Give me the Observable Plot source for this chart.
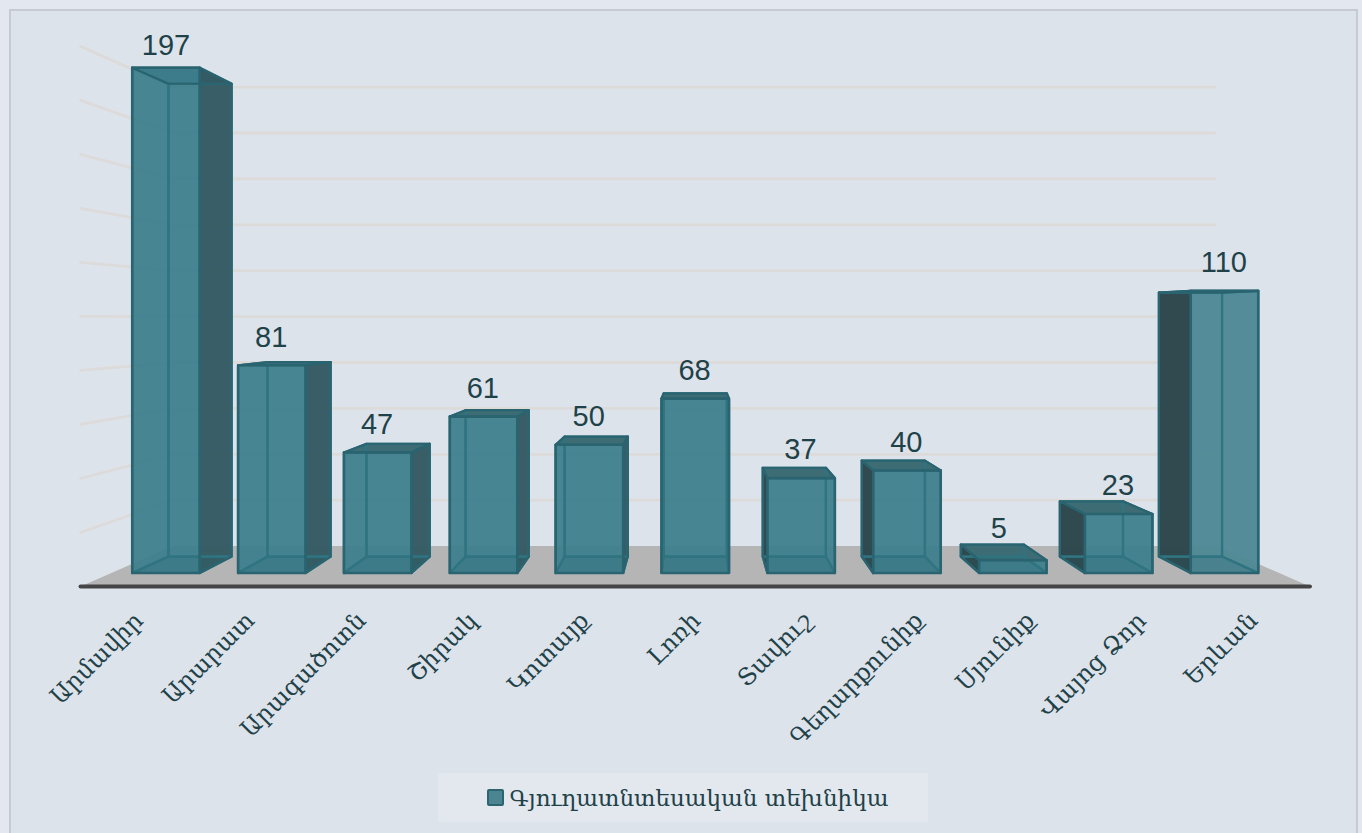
<!DOCTYPE html>
<html lang="hy">
<head>
<meta charset="utf-8">
<script src="https://cdn.jsdelivr.net/npm/d3@7"></script>
<script src="https://cdn.jsdelivr.net/npm/@observablehq/plot@0.6"></script>
<style>
html,body{margin:0;padding:0;background:#e3e8f0;overflow:hidden}
#page{position:relative;width:1362px;height:833px;overflow:hidden}
#panel{position:absolute;left:9px;top:9px;width:1345px;height:840px;background:#dde3eb;border:2px solid #c6cad1;box-sizing:content-box}
#chart{position:absolute;left:0;top:0}
#legend{position:absolute;left:438px;top:773px;width:490px;height:49px;padding-left:9px;box-sizing:border-box;background:#e3e8ee;display:flex;align-items:center;justify-content:center;font:23px "DejaVu Serif",serif;color:#1f4249;white-space:nowrap}
#legend i{display:inline-block;width:13px;height:13px;background:#4c8592;border:2px solid #2c6570;border-radius:2px;margin-right:6px}
</style>
</head>
<body>
<div id="page">
<div id="panel"></div>
<div id="chart"></div>
<div id="legend"><i></i><span id="legendText"></span></div>
</div>
<script>
const categories = ["Արմավիր","Արարատ","Արագածոտն","Շիրակ","Կոտայք","Լոռի","Տավուշ","Գեղարքունիք","Սյունիք","Վայոց Ձոր","Երևան"];
const values = [197,81,47,61,50,68,37,40,5,23,110];
const gridValues = [20,40,60,80,100,120,140,160,180,200];
const seriesName = "Գյուղատնտեսական տեխնիկա";

// perspective of the 3D box, in data units
const vanishX = 5, vanishV = 99.6;
const halfBar = 0.319;
const backDepth = 0.9357, wallDepth = 0.8947, floorFront = 1.053;
const wallLeft = -0.515, wallRight = 10.515, gridRight = 10.485;
const P = (i, v, s) => ({x: vanishX + (i - vanishX) * s, y: vanishV + (v - vanishV) * s});

const bars = categories.map((name, i) => ({name, i, v: values[i]}));
const poly = (id, pts) => [...pts, pts[0]].map(p => ({...p, id}));
const box = d => {
  const l = d.i - halfBar, r = d.i + halfBar;
  return {
    front: [P(l,d.v,1),P(r,d.v,1),P(r,0,1),P(l,0,1)],
    back: [P(l,d.v,backDepth),P(r,d.v,backDepth),P(r,0,backDepth),P(l,0,backDepth)],
    top: [P(l,d.v,1),P(r,d.v,1),P(r,d.v,backDepth),P(l,d.v,backDepth)],
    bottom: [P(l,0,1),P(r,0,1),P(r,0,backDepth),P(l,0,backDepth)],
    left: [P(l,d.v,1),P(l,d.v,backDepth),P(l,0,backDepth),P(l,0,1)],
    right: [P(r,d.v,1),P(r,d.v,backDepth),P(r,0,backDepth),P(r,0,1)]
  };
};
const faces = name => bars.flatMap(d => poly(d.name, box(d)[name]));
const sideFaces = (name, test) => bars.filter(test).flatMap(d => poly(d.name, box(d)[name]));
const rightVisible = d => d.i < vanishX, leftVisible = d => d.i > vanishX;

const floor = poly("floor",[P(wallLeft,0,floorFront),P(wallLeft,0,wallDepth),P(wallRight,0,wallDepth),P(wallRight,0,floorFront)]);
const backGrid = gridValues.flatMap(v => [P(wallLeft,v,wallDepth),P(gridRight,v,wallDepth)].map(p => ({...p,id:v})));
const leftGrid = gridValues.flatMap(v => [P(wallLeft,v,floorFront),P(wallLeft,v,wallDepth)].map(p => ({...p,id:v})));
const frontEdge = [P(wallLeft,0,floorFront),P(wallRight,0,floorFront)];

const ink = "#1f4249", inner = "#2f7480", outer = "#296470";
const lineOpts = (o) => ({x:"x",y:"y",z:"id",curve:"linear",strokeLinejoin:"round",...o});
const labelAnchor = d => P(d.i,0,floorFront);
const valueText = {x:"i",y:"v",text:d=>String(d.v),fill:ink,fontSize:29,fontFamily:"Liberation Sans",lineAnchor:"middle"};

const chart = Plot.plot({
  width:1362, height:770,
  margin:0,
  style:{background:"transparent"},
  x:{domain:[0,10],range:[165.5,1224],axis:null},
  y:{domain:[0,200],range:[572.5,59.5],axis:null},
  marks:[
    Plot.line(floor, lineOpts({fill:"#b5b5b5",stroke:"none"})),
    Plot.line(backGrid, lineOpts({stroke:"#dddadA",strokeWidth:2.8})),
    Plot.line(leftGrid, lineOpts({stroke:"#dddada",strokeWidth:2.8})),
    Plot.line(frontEdge, {x:"x",y:"y",stroke:"#454545",strokeWidth:4,strokeLinecap:"round"}),
    Plot.line(faces("top"), lineOpts({fill:"#3d6c74",stroke:"none"})),
    Plot.line(sideFaces("right",rightVisible), lineOpts({fill:"#345a62",fillOpacity:0.97,stroke:"none"})),
    Plot.line(sideFaces("left",leftVisible), lineOpts({fill:"#2b454a",fillOpacity:0.97,stroke:"none"})),
    Plot.line(faces("front"), lineOpts({fill:"#3e7e8c",fillOpacity:0.94,stroke:"none"})),
    Plot.line(sideFaces("front",d=>d.v>100&&d.i>vanishX), lineOpts({fill:"#ffffff",fillOpacity:0.07,stroke:"none"})),
    Plot.line(faces("bottom"), lineOpts({fill:"#1f5f6c",fillOpacity:0.18,stroke:"none"})),
    Plot.line(faces("back"), lineOpts({stroke:inner,strokeWidth:2.2})),
    Plot.line(sideFaces("left",d=>!leftVisible(d)), lineOpts({stroke:inner,strokeWidth:2.2})),
    Plot.line(sideFaces("right",d=>!rightVisible(d)), lineOpts({stroke:inner,strokeWidth:2.2})),
    Plot.line(faces("bottom"), lineOpts({stroke:inner,strokeWidth:2.2})),
    Plot.line(faces("top"), lineOpts({stroke:outer,strokeWidth:2.2})),
    Plot.line(sideFaces("right",rightVisible), lineOpts({stroke:outer,strokeWidth:2.2})),
    Plot.line(sideFaces("left",leftVisible), lineOpts({stroke:outer,strokeWidth:2.2})),
    Plot.line(faces("front"), lineOpts({stroke:outer,strokeWidth:2.6})),
    Plot.text(bars.filter(d => d.i !== 0 && d.i !== 8), {...valueText,dx:-0.7,dy:-28}),
    Plot.text(bars.filter(d => d.i === 0), {...valueText,dy:-22}),
    Plot.text(bars.filter(d => d.i === 8), {...valueText,dx:-14,dy:-31}),
    Plot.text(bars, {x:d=>labelAnchor(d).x,y:d=>labelAnchor(d).y,text:"name",rotate:-45,textAnchor:"end",lineAnchor:"middle",dx:1,dy:30,fill:ink,fontSize:24,fontFamily:"DejaVu Serif"})
  ]
});
document.getElementById("chart").append(chart);
document.getElementById("legendText").textContent = seriesName;
</script>
</body>
</html>
